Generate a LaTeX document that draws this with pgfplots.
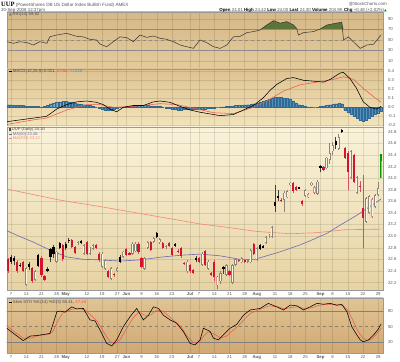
\documentclass[border=0pt]{standalone}
\usepackage{pgfplots}
\pgfplotsset{compat=1.18}
\usepackage{pgfplotstable}
\usepackage{fontspec}
\setmainfont{Liberation Sans}
\newfontfamily\symf{DejaVu Sans}
\newfontfamily\serifb{Liberation Serif}

\definecolor{candlered}{HTML}{D4142C}
\definecolor{wickred}{HTML}{D85060}
\definecolor{hollowgray}{HTML}{8A8778}
\definecolor{hollowfill}{HTML}{FBF6E4}
\definecolor{pinkout}{HTML}{E88A8A}
\definecolor{ma50}{HTML}{6A6AB0}
\definecolor{ma200}{HTML}{F08878}
\definecolor{sigred}{HTML}{F05A4A}
\definecolor{histblue}{HTML}{4A94CC}
\definecolor{rsigreen}{HTML}{5F7438}
\definecolor{txtgray}{HTML}{555555}
\definecolor{rsiT}{HTML}{D6B886}
\definecolor{rsiB}{HTML}{E4CB9D}
\definecolor{macdT}{HTML}{DEC392}
\definecolor{macdB}{HTML}{F3E4BA}
\definecolor{prT}{HTML}{FAF3DA}
\definecolor{prB}{HTML}{E7D3A3}
\definecolor{stT}{HTML}{E0C494}
\definecolor{stB}{HTML}{D0A973}

\pgfplotstableread{
x o h l c
3 22.60 22.63 22.37 22.39
6 22.55 22.58 22.37 22.39
8 22.55 22.57 22.38 22.40
11 22.45 22.47 22.20 22.22
14 22.62 22.66 22.30 22.33
15 22.31 22.33 22.22 22.25
21 22.84 22.86 22.57 22.60
24 22.93 22.95 22.79 22.81
25 22.81 22.83 22.69 22.71
29 22.89 22.92 22.67 22.70
32 22.84 22.86 22.77 22.79
33 22.70 22.73 22.55 22.58
36 22.40 22.42 22.28 22.30
38 22.35 22.37 22.30 22.33
42 22.77 22.80 22.66 22.68
43 22.71 22.73 22.67 22.69
46 22.87 22.89 22.70 22.72
47 22.62 22.64 22.45 22.47
50 22.90 22.92 22.74 22.76
54 22.88 22.90 22.78 22.80
56 22.88 22.90 22.81 22.83
57 22.80 22.82 22.66 22.68
59 22.75 22.77 22.71 22.73
60 22.80 22.82 22.63 22.65
61 22.54 22.56 22.50 22.52
63 22.50 22.52 22.37 22.39
64 22.41 22.43 22.34 22.36
66 22.62 22.64 22.53 22.55
68 22.74 22.76 22.48 22.50
70 22.36 22.38 22.31 22.33
71 22.55 22.58 22.22 22.30
76 22.40 22.42 22.31 22.33
79 22.59 22.61 22.55 22.57
81 22.59 22.61 22.54 22.56
84 22.86 22.88 22.68 22.70
93 23.63 23.65 23.58 23.60
97 23.91 23.93 23.75 23.77
98 23.85 23.87 23.78 23.80
100 23.60 23.62 23.52 23.55
107 24.19 24.21 24.12 24.14
114 24.52 24.54 24.33 24.35
115 24.43 24.46 23.79 24.11
117 24.40 24.42 23.92 23.94
119 23.87 23.95 23.76 23.85
120 23.48 24.05 22.79 23.31
}\FR

\pgfplotstableread{
x o h l c
4 22.64 22.68 22.52 22.56
5 22.62 22.66 22.50 22.57
7 22.51 22.53 22.46 22.49
10 22.52 22.55 22.42 22.46
13 22.67 22.70 22.46 22.48
16 22.43 22.47 22.38 22.41
17 22.78 22.80 22.55 22.64
18 22.81 22.84 22.62 22.70
20 22.88 22.90 22.77 22.79
22 22.87 22.90 22.76 22.79
23 22.94 22.96 22.88 22.91
27 22.92 22.94 22.86 22.89
40 22.64 22.67 22.54 22.56
52 23.05 23.07 22.96 22.98
58 22.86 22.88 22.82 22.84
65 22.62 22.65 22.56 22.58
74 22.46 22.48 22.35 22.44
86 22.84 22.86 22.76 22.78
87 22.83 22.85 22.79 22.81
91 23.58 23.88 23.42 23.52
92 23.69 23.80 23.60 23.65
99 23.84 23.85 23.81 23.83
106 24.21 24.23 24.10 24.17
111 24.64 24.70 24.50 24.57
113 24.83 24.85 24.78 24.80
}\FB

\pgfplotstableread{
x o h l c
9 22.16 22.47 22.14 22.45
12 22.24 22.42 22.22 22.40
19 22.56 22.75 22.54 22.73
26 22.86 22.91 22.84 22.89
28 22.70 22.87 22.68 22.85
30 22.70 22.82 22.68 22.80
31 22.78 22.86 22.76 22.84
34 22.47 22.72 22.45 22.70
35 22.44 22.60 22.42 22.58
37 22.26 22.47 22.24 22.45
39 22.40 22.47 22.38 22.45
41 22.64 22.75 22.62 22.73
44 22.70 22.89 22.68 22.87
45 22.74 22.89 22.72 22.87
48 22.44 22.64 22.42 22.62
49 22.80 22.92 22.78 22.90
51 22.90 22.98 22.88 22.96
53 22.89 22.97 22.87 22.95
55 22.79 22.85 22.77 22.83
62 22.39 22.58 22.37 22.56
67 22.50 22.72 22.48 22.70
69 22.44 22.58 22.42 22.56
73 22.22 22.40 22.18 22.36
75 22.33 22.52 22.31 22.50
77 22.19 22.52 22.17 22.50
78 22.50 22.62 22.48 22.60
80 22.55 22.64 22.53 22.62
82 22.56 22.60 22.54 22.58
83 22.55 22.78 22.53 22.76
85 22.59 22.81 22.57 22.79
88 22.88 23.00 22.86 22.98
89 22.98 23.03 22.96 23.01
90 22.99 23.18 22.97 23.16
94 23.62 23.77 23.42 23.75
95 23.67 23.79 23.65 23.77
96 23.88 23.94 23.86 23.92
101 23.69 23.81 23.67 23.79
103 23.88 23.94 23.86 23.92
105 23.73 23.96 23.71 23.94
108 24.17 24.37 24.15 24.35
109 24.31 24.60 24.25 24.43
110 24.46 24.62 24.40 24.57
112 24.51 24.76 24.49 24.71
116 24.00 24.48 23.98 24.46
118 23.74 24.04 23.72 24.02
121 23.25 23.68 23.22 23.66
122 23.40 23.71 23.38 23.69
124 23.50 23.73 23.48 23.71
125 23.71 23.94 23.69 23.83
}\HB

\pgfplotstableread{
x o h l c
72 22.15 22.32 22.08 22.30
102 23.68 23.74 23.66 23.72
104 23.74 23.87 23.72 23.85
123 23.33 23.66 23.31 23.64
}\HR

\pgfplotstableread{
x o h l c
126 24.01 24.42 24.00 24.30
}\GR

\pgfplotstableread{
x v
2.7 23.09
7 22.99
11.2 22.90
16.8 22.76
22.4 22.64
27.7 22.60
33.3 22.59
40 22.57
46.5 22.59
53.8 22.64
60 22.67
66.3 22.69
72.9 22.66
79.5 22.60
84.4 22.60
92.7 22.73
95 22.77
99.3 22.85
102.6 22.92
108.2 23.05
112.5 23.19
118 23.36
121.4 23.48
126 23.64
}\MAL

\pgfplotstableread{
x v
2.7 23.81
20.1 23.62
33.3 23.51
49.8 23.36
66.3 23.21
73.9 23.16
85.1 23.08
96 23.04
105 23.06
114.1 23.11
126 23.12
}\MAS

\pgfplotstableread{
x v
2.6 46.8
4.75 43.7
7 46.8
9.2 45
11.3 40.5
13.5 46.8
15.8 43.7
16.8 56.3
19.1 59.5
22.3 62.7
25.6 57
27.8 56
30 51.3
32.2 50
33.3 42.4
35.5 37.2
37.7 46.8
39.9 56
42.1 54.6
44.3 46.8
46.5 59.5
48.7 55
50.9 57.6
53.1 53.3
55.3 51.3
57.5 46.8
59.7 40.5
61.9 37.2
64.1 34.2
66.3 50
68.5 45
70.7 37.2
72.9 34
75.1 40.5
77.3 56
79.5 57
81.7 64
83.9 66
86.1 69
88.3 78.6
90.5 86.8
92.7 82
94.9 85
97.1 78.6
98.2 71.4
98.7 59.5
100.4 64
103.7 66
105.9 71
108.1 78.6
110.3 81
113 84
113.6 50
115.2 56
116.8 46.8
119.1 34
121.3 40.5
123.5 42
126 59.9
}\RSI

\pgfplotstableread{
x v
2.6 -0.16
7 -0.14
11.3 -0.12
15.7 -0.10
17 -0.07
19 -0.02
22.3 0.03
25.6 0.06
28.9 0.07
32.2 0.055
34.4 0.03
36.6 -0.02
38.8 -0.05
41 0.0
44.3 0.02
47.6 0.02
50.9 0.06
53.1 0.07
56.4 0.055
59.7 0.01
63 -0.03
66.3 -0.055
70.7 -0.08
72.9 -0.093
77.3 -0.08
80.6 -0.03
83.9 0.02
87.2 0.107
89.4 0.19
91.6 0.255
94.9 0.32
97.1 0.33
100.4 0.30
103.7 0.29
107 0.28
109.2 0.31
112.4 0.38
113.5 0.39
115.7 0.32
117.9 0.21
120.1 0.06
122.3 0.0
124.5 -0.02
126 0.011
}\MACD

\pgfplotstableread{
x v
2.6 -0.19
11.3 -0.14
15.7 -0.12
22.3 -0.03
28.9 0.03
33.3 0.03
37.7 0.0
44.3 0.01
53.1 0.04
58.6 0.03
64.1 -0.01
70.7 -0.06
77.3 -0.07
83.9 0.0
88.3 0.07
93.8 0.18
99.3 0.25
104.8 0.28
110.3 0.31
113.6 0.34
116.9 0.31
120.1 0.21
123.4 0.12
126 0.056
}\SIG

\pgfplotstableread{
x v
3 0.03
4 0.03
5 0.025
6 0.025
7 0.02
8 0.02
9 0.015
10 0.01
11 0.01
12 0.01
13 0.01
14 0.005
15 0.01
16 0.02
17 0.04
18 0.05
19 0.06
20 0.06
21 0.065
22 0.065
23 0.06
24 0.055
25 0.05
26 0.04
27 0.035
28 0.03
29 0.025
30 0.02
31 0.01
32 0.0
33 -0.01
34 -0.02
35 -0.03
36 -0.035
37 -0.03
38 -0.02
39 -0.01
40 0.0
41 0.005
42 0.01
43 0.01
44 0.015
45 0.02
46 0.02
47 0.025
48 0.02
49 0.02
50 0.015
51 0.01
52 0.01
53 0.01
54 0.0
55 -0.005
56 -0.01
57 -0.02
58 -0.025
59 -0.03
60 -0.03
61 -0.025
62 -0.02
63 -0.02
64 -0.015
65 -0.02
66 -0.02
67 -0.015
68 -0.015
69 -0.01
70 -0.01
71 -0.005
72 0.0
73 0.005
74 0.005
75 0.01
76 0.01
77 0.015
78 0.02
79 0.02
80 0.025
81 0.03
82 0.03
83 0.035
84 0.04
85 0.05
86 0.06
87 0.07
88 0.08
89 0.09
90 0.10
91 0.11
92 0.11
93 0.11
94 0.105
95 0.10
96 0.09
97 0.07
98 0.05
99 0.03
100 0.02
101 0.01
102 0.005
103 0.005
104 0.0
105 0.005
106 0.01
107 0.015
108 0.02
109 0.03
110 0.035
111 0.04
112 0.045
113 0.04
114 -0.03
115 -0.05
116 -0.08
117 -0.10
118 -0.12
119 -0.14
120 -0.15
121 -0.14
122 -0.12
123 -0.10
124 -0.08
125 -0.06
126 -0.046
}\HIST

\pgfplotstableread{
x v
2.6 47
4.7 37.4
8 23.3
10.3 32
12.5 33
14.6 35
16.8 37
17.9 56.5
19.1 78.7
20.1 80
21.8 78
24 88
25.6 84
27.8 85
30 63
31.7 61
33.3 43.7
35.5 18
37.2 13
38.8 24.6
41 50
43.2 69
45.4 85
47.6 63
49.3 72
50.9 88
52.6 85
54.2 72
56.4 63
58.6 56.5
60.8 40.4
63 18
64.6 15
66.3 24.6
67.4 47
69.6 41
70.7 28
72.3 24.6
74.5 37.4
76.2 47
78.4 54.6
80.6 72
82.8 82
86.1 85
88.8 94.7
91.6 88
93.8 82
96 91.5
98.2 90
100.4 82
102.6 88
104.8 94.7
107 93
109.2 94.7
111.4 91
113 93
114.7 78.7
116.3 50
118 34
119.1 24.6
120.1 21
121.8 24.6
123.5 34
125 45
126 55.4
}\STK

\pgfplotstableread{
x v
2.6 52
4.7 42
8 28
10.3 28
12.5 32
14.6 34
16.8 36
18 43
19.5 62
21 76
22.5 80
24.5 84
26.5 85
28.5 82
31 68
32.5 60
34.5 40
36.5 22
38.3 17
40 26
42 45
44 65
46 78
48 72
50 72
52 82
54 80
56 70
58 60
60 50
62 32
64 20
66 20
67.5 32
69 40
71 36
73 28
75 32
77 42
79 52
81 65
83 76
86 83
89 90
92 88
94 84
96.5 87
98.5 88
100.5 85
103 86
105 90
107.5 93
110 93
112 92
113.5 90
115.2 80
117 58
118.5 40
120 28
121.5 23
123 27
124.5 36
126 47.5
}\STD

\pgfplotsset{
  panel/.style={
    scale only axis, width=376pt, anchor=south west,
    xmin=2.65, xmax=126.6,
    axis line style={draw=black!40, line width=0.4pt},
    major tick length=0pt,
    yticklabel pos=right,
    ticklabel style={font=\fontsize{4.3}{5}\selectfont, text=black!65},
    yticklabel style={anchor=west, xshift=1.5pt},
    xtick={4,9,14,19,22,29,34,39,42,47,52,57,63,66,71,76,81,85,91,96,101,106,110,115,120,125},
    xmajorgrids, ymajorgrids,
    grid style={draw=black, opacity=0.1, line width=0.35pt},
    /pgf/number format/assume math mode=true,
    clip=true,
  },
  nolabels/.style={xticklabels={}},
  withlabels/.style={xticklabels={7,14,21,28,\textbf{May},12,19,27,\textbf{Jun},9,16,23,\textbf{Jul},7,14,21,28,\textbf{Aug},11,18,25,\textbf{Sep},8,15,22,29},
    xticklabel style={yshift=1.2pt}},
  nomark/.style={only marks, mark=*, mark size=0pt, mark options={draw=none, fill=none}, forget plot},
  wick/.style={nomark, error bars/.cd, y dir=plus, y explicit, error mark=none, error bar style={draw=#1, line width=0.55pt}},
  body/.style={nomark, error bars/.cd, y dir=both, y explicit, error mark=none, error bar style={draw=#1, line width=2.2pt}},
  inner/.style={nomark, error bars/.cd, y dir=both, y explicit, error mark=none, error bar style={draw=#1, line width=1.0pt}},
}

\begin{document}
\begin{tikzpicture}
\fill[white] (0,0) rectangle (400pt,362pt);

% ---------- RSI ----------
\begin{axis}[panel, nolabels, at={(7pt,293pt)}, height=57pt, ymin=-5.2, ymax=103.3,
  ytick={10,30,50,70,90},
  axis background/.style={top color=rsiT, bottom color=rsiB}]
\addplot[fill=rsigreen, draw=none, forget plot] table[x=x, y expr={max(\thisrow{v},70)}] {\RSI} -- (axis cs:126,70) -- (axis cs:2.6,70) -- cycle;
\addplot[draw=black!45, line width=0.5pt, forget plot] coordinates {(0,70) (130,70)};
\addplot[draw=black!45, line width=0.5pt, forget plot] coordinates {(0,30) (130,30)};
\addplot[draw=black!45, dashed, line width=0.4pt, forget plot] coordinates {(0,50) (130,50)};
\addplot[draw=black!80, line width=0.5pt] table {\RSI};
\end{axis}

% ---------- MACD ----------
\begin{axis}[panel, nolabels, at={(7pt,235pt)}, height=58pt, ymin=-0.219, ymax=0.4256,
  ytick={-0.2,-0.1,0,0.1,0.2,0.3,0.4},
  yticklabel style={/pgf/number format/.cd, fixed, fixed zerofill, precision=1},
  axis background/.style={top color=macdT, bottom color=macdB}]
\addplot[ybar, bar width=2.1pt, fill=histblue, draw=histblue!70!black, line width=0.1pt] table {\HIST};
\addplot[draw=sigred, line width=0.55pt] table {\SIG};
\addplot[draw=black, line width=0.55pt] table {\MACD};
\end{axis}

% ---------- Price ----------
\begin{axis}[panel, withlabels, at={(7pt,72pt)}, height=163pt, ymin=22.071, ymax=24.881,
  ytick={22.2,22.4,22.6,22.8,23.0,23.2,23.4,23.6,23.8,24.0,24.2,24.4,24.6,24.8},
  yticklabel style={/pgf/number format/.cd, fixed, fixed zerofill, precision=1},
  axis background/.style={top color=prT, bottom color=prB}]
\addplot[draw=ma200, line width=0.6pt] table {\MAS};
\addplot[draw=ma50, line width=0.6pt] table {\MAL};
% wicks
\addplot[wick=wickred] table[x=x, y=l, y error expr=\thisrow{h}-\thisrow{l}] {\FR};
\addplot[wick=wickred] table[x=x, y=l, y error expr=\thisrow{h}-\thisrow{l}] {\HR};
\addplot[wick=black!75] table[x=x, y=l, y error expr=\thisrow{h}-\thisrow{l}] {\FB};
\addplot[wick=hollowgray] table[x=x, y=l, y error expr=\thisrow{h}-\thisrow{l}] {\HB};
% bodies
\addplot[body=candlered] table[x=x, y expr=(\thisrow{o}+\thisrow{c})/2, y error expr={max(abs(\thisrow{c}-\thisrow{o})/2,0.008)}] {\FR};
\addplot[body=black] table[x=x, y expr=(\thisrow{o}+\thisrow{c})/2, y error expr={max(abs(\thisrow{c}-\thisrow{o})/2,0.008)}] {\FB};
\addplot[body=hollowgray] table[x=x, y expr=(\thisrow{o}+\thisrow{c})/2, y error expr={max(abs(\thisrow{c}-\thisrow{o})/2,0.008)}] {\HB};
\addplot[inner=hollowfill] table[x=x, y expr=(\thisrow{o}+\thisrow{c})/2, y error expr={max(abs(\thisrow{c}-\thisrow{o})/2-0.012,0)}] {\HB};
\addplot[body=pinkout] table[x=x, y expr=(\thisrow{o}+\thisrow{c})/2, y error expr={max(abs(\thisrow{c}-\thisrow{o})/2,0.008)}] {\HR};
\addplot[inner=hollowfill] table[x=x, y expr=(\thisrow{o}+\thisrow{c})/2, y error expr={max(abs(\thisrow{c}-\thisrow{o})/2-0.012,0)}] {\HR};
% today's bar
\addplot[body={green!60!black}] table[x=x, y expr=(\thisrow{h}+\thisrow{l})/2, y error expr=(\thisrow{h}-\thisrow{l})/2] {\GR};
\addplot[inner={green!80!white}] table[x=x, y expr=(\thisrow{o}+\thisrow{c})/2, y error expr=(\thisrow{c}-\thisrow{o})/2] {\GR};
\end{axis}

% ---------- Slow Stochastic ----------
\begin{axis}[panel, withlabels, at={(7pt,9pt)}, height=55pt, ymin=-0.5, ymax=105,
  ytick={20,50,80}, ymajorgrids=false,
  axis background/.style={top color=stT, bottom color=stB}]
\addplot[draw=black!50, line width=0.5pt, forget plot] coordinates {(0,80) (130,80)};
\addplot[draw=black!50, line width=0.5pt, forget plot] coordinates {(0,20) (130,20)};
\addplot[draw=black!50, dashed, line width=0.4pt, forget plot] coordinates {(0,50) (130,50)};
\addplot[draw=sigred, line width=0.55pt] table {\STD};
\addplot[draw=black, line width=0.55pt] table {\STK};
\end{axis}

% ---------- texts ----------
\node[anchor=base west, inner sep=0pt, font=\fontsize{4.6}{5}\selectfont, text=txtgray] at (1pt,355.5pt)
  {{\serifb\bfseries\fontsize{6.5}{7}\selectfont\color{black}UUP}\ (PowerShares DB US Dollar Index Bullish Fund) AMEX};
\node[anchor=base west, inner sep=0pt, font=\fontsize{4.4}{5}\selectfont, text=txtgray] at (1pt,350pt) {30-Sep-2008 12:37pm};
\node[anchor=base east, inner sep=0pt, font=\fontsize{4.4}{5}\selectfont, text=txtgray] at (387pt,356pt) {@StockCharts.com};
\node[anchor=base east, inner sep=0pt, font=\fontsize{4.4}{5}\selectfont, text=txtgray] at (387pt,350pt)
  {\textbf{\color{black}Open} 24.01 \textbf{\color{black}High} 24.42 \textbf{\color{black}Low} 24.00 \textbf{\color{black}Last} 24.30 \textbf{\color{black}Volume} 204.9K \textbf{\color{black}Chg} +0.48 (+2.02\%){\symf\fontsize{3.5}{4}\selectfont\color{green!60!black}▲}};

\node[anchor=base west, inner sep=0pt, font=\fontsize{4.3}{5}\selectfont, text=black!70] at (9pt,346pt)
  {{\symf\fontsize{3.5}{4}\selectfont\color{rsigreen}▲}\,RSI(14) 59.92};
\node[anchor=base west, inner sep=0pt, font=\fontsize{4.3}{5}\selectfont, text=black!70] at (9pt,289pt)
  {\textcolor{black}{\rule[1pt]{3pt}{0.6pt}}\,MACD(12,26,9) 0.011, \textcolor{sigred}{0.056}, \textcolor{histblue}{-0.046}};
\node[anchor=base west, inner sep=0pt, font=\fontsize{4.1}{5}\selectfont, text=black!70] at (9pt,231pt)
  {{\color{black!70}\rule[0.2pt]{2pt}{2.6pt}}\,UUP (Daily) 24.30};
\node[anchor=base west, inner sep=0pt, font=\fontsize{4.1}{5}\selectfont, text=ma50] at (9pt,226.5pt)
  {\rule[1pt]{3pt}{0.6pt}\,MA(50) 23.48};
\node[anchor=base west, inner sep=0pt, font=\fontsize{4.1}{5}\selectfont, text=ma200] at (9pt,222pt)
  {\rule[1pt]{3pt}{0.6pt}\,MA(200) 23.12};
\node[anchor=base west, inner sep=0pt, font=\fontsize{4.3}{5}\selectfont, text=black!70] at (9pt,58.5pt)
  {\textcolor{black}{\rule[1pt]{3pt}{0.6pt}}\,Slow STO \%K(14) \%D(3) 55.41, \textcolor{sigred}{47.46}};
\pgfresetboundingbox
\path[use as bounding box] (0,0) rectangle (400pt,362pt);
\end{tikzpicture}
\end{document}
